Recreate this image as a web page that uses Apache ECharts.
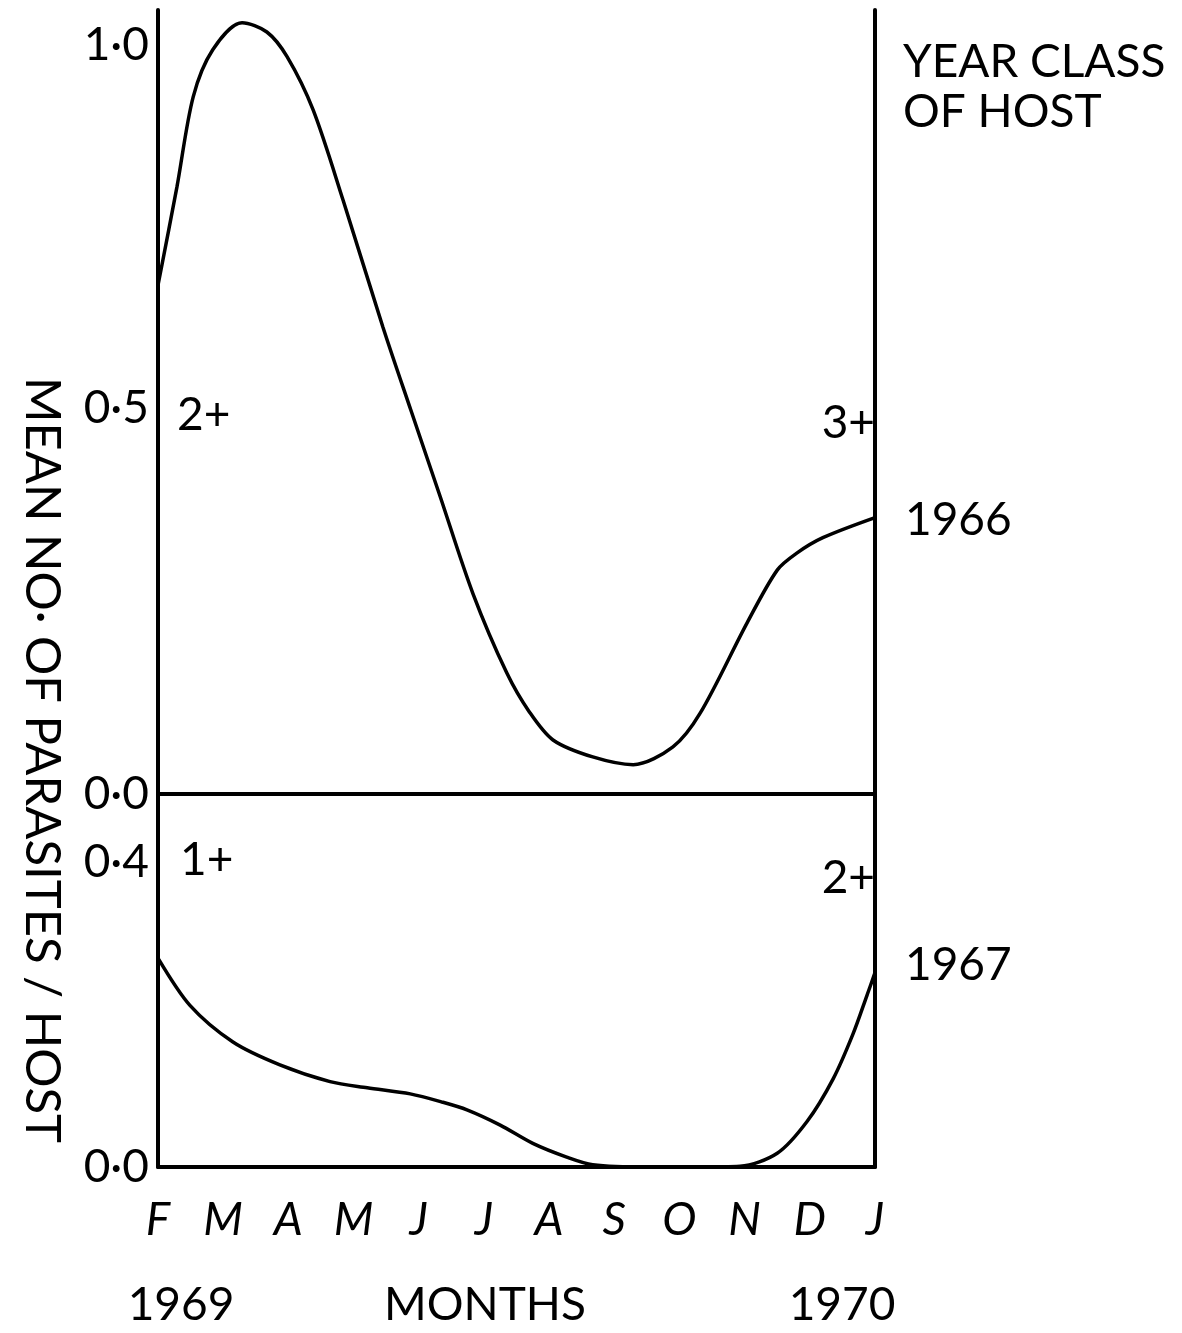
<!DOCTYPE html>
<html>
<head>
<meta charset="utf-8">
<script src="https://cdn.jsdelivr.net/npm/echarts@6/dist/echarts.min.js"></script>
<style>
html,body{margin:0;padding:0;background:#fff}
#c{width:1182px;height:1333px}
</style>
</head>
<body>
<div id="c"></div>
<script>
// Month tick labels (Feb 1969 .. Jan 1970)
const months = ['F','M','A','M','J','J','A','S','O','N','D','J'];

// Upper panel: year class 1966 (2+ -> 3+); x = month index from Feb 1969
const olderX = [0, 0.29, 0.54, 0.84, 1.29, 1.67, 1.98, 2.38, 2.84, 3.45, 3.88, 4.33, 4.83, 5.35, 5.7, 6.06, 6.67, 7.29, 7.9, 8.32, 9.04, 9.5, 9.8, 10.2, 11];
const olderY = [0.659, 0.786, 0.903, 0.964, 0.999, 0.987, 0.955, 0.886, 0.769, 0.605, 0.497, 0.385, 0.26, 0.157, 0.106, 0.07, 0.048, 0.038, 0.061, 0.105, 0.222, 0.29, 0.312, 0.332, 0.358];

// Lower panel: year class 1967 (1+ -> 2+)
const youngX = [0, 0.49, 1.15, 1.87, 2.64, 3.21, 3.87, 4.37, 4.74, 5.25, 5.75, 6.27, 6.67, 7.5, 8.3, 8.93, 9.5, 9.96, 10.36, 10.66, 10.88, 11];
const youngY = [0.274, 0.212, 0.164, 0.134, 0.112, 0.104, 0.096, 0.085, 0.075, 0.055, 0.031, 0.013, 0.003, 0, 0, 0.001, 0.018, 0.06, 0.116, 0.174, 0.226, 0.255];

// Y tick labels
const topTicks = [0, 0.5, 1.0];
const topTickText = ['0·0', '0·5', '1·0'];
const botTicks = [0, 0.4];
const botTickText = ['0·0', '0·4'];

const FONT = 'Lato';
const BLACK = '#000';
const axisLine = {show: true, lineStyle: {color: BLACK, width: 4}};

function tickFormatter(ticks, texts) {
  return function (v) {
    for (let i = 0; i < ticks.length; i++) {
      if (Math.abs(v - ticks[i]) < 1e-6) {
        return ticks[i] === 1 ? '{hi|' + texts[i] + '}' : texts[i];
      }
    }
    return '';
  };
}

const yLabel = (ticks, texts) => ({
  show: true, margin: 9, fontSize: 46, fontFamily: FONT, color: BLACK,
  formatter: tickFormatter(ticks, texts),
  rich: {hi: {fontSize: 46, fontFamily: FONT, color: BLACK, padding: [46, 0, 0, 0]}}
});

const chart = echarts.init(document.getElementById('c'));

function txt(x, y, text, align, opts) {
  return {
    type: 'text', x: x, y: y,
    style: Object.assign({
      text: text, fill: BLACK, fontSize: 46, fontFamily: FONT,
      textAlign: align || 'left', textVerticalAlign: 'middle'
    }, opts || {})
  };
}

const option = {
  backgroundColor: '#fff',
  animation: false,
  grid: [
    {left: 158, width: 717, top: 10, height: 784},
    {left: 158, width: 717, top: 794, height: 373}
  ],
  xAxis: [
    {gridIndex: 0, type: 'value', min: 0, max: 11, interval: 1,
     axisLine: axisLine, axisTick: {show: false}, axisLabel: {show: false}, splitLine: {show: false}},
    {gridIndex: 1, type: 'value', min: 0, max: 11, interval: 1,
     axisLine: axisLine, axisTick: {show: false}, splitLine: {show: false},
     axisLabel: {show: true, margin: 30, fontSize: 46, fontStyle: 'italic', fontFamily: FONT, color: BLACK,
                 showMinLabel: true, showMaxLabel: true,
                 formatter: v => months[Math.round(v)] || ''}}
  ],
  yAxis: [
    {gridIndex: 0, type: 'value', min: 0, max: 1.0155, interval: 0.5,
     axisLine: axisLine, axisTick: {show: false}, splitLine: {show: false},
     axisLabel: yLabel(topTicks, topTickText)},
    {gridIndex: 0, type: 'value', position: 'right', min: 0, max: 1.0155, interval: 0.5,
     axisLine: axisLine, axisTick: {show: false}, splitLine: {show: false}, axisLabel: {show: false}},
    {gridIndex: 1, type: 'value', min: 0, max: 0.4895, interval: 0.4,
     axisLine: axisLine, axisTick: {show: false}, splitLine: {show: false},
     axisLabel: yLabel(botTicks, botTickText)},
    {gridIndex: 1, type: 'value', position: 'right', min: 0, max: 0.4895, interval: 0.4,
     axisLine: axisLine, axisTick: {show: false}, splitLine: {show: false}, axisLabel: {show: false}}
  ],
  series: [
    {type: 'line', xAxisIndex: 0, yAxisIndex: 0, symbol: 'none', smooth: 0.3,
     data: olderX.map((x, i) => [x, olderY[i]]),
     lineStyle: {color: BLACK, width: 3.5}},
    {type: 'line', xAxisIndex: 1, yAxisIndex: 2, symbol: 'none', smooth: 0.3,
     data: youngX.map((x, i) => [x, youngY[i]]),
     lineStyle: {color: BLACK, width: 3.5}}
  ],
  graphic: [
    txt(903, 62, 'YEAR CLASS'),
    txt(903, 112, 'OF HOST'),
    txt(177, 415, '2+'),
    txt(875, 423, '3+', 'right'),
    txt(905, 520, '1966'),
    txt(180, 860, '1+'),
    txt(875, 878, '2+', 'right'),
    txt(905, 965, '1967'),
    txt(181, 1305, '1969', 'center'),
    txt(485, 1305, 'MONTHS', 'center'),
    txt(842, 1305, '1970', 'center'),
    {type: 'text', x: 42, y: 760, rotation: -Math.PI / 2,
     style: {text: 'MEAN NO· OF PARASITES / HOST', fill: BLACK, fontSize: 49, fontFamily: FONT,
             textAlign: 'center', textVerticalAlign: 'middle'}}
  ]
};
chart.setOption(option);
</script>
</body>
</html>
